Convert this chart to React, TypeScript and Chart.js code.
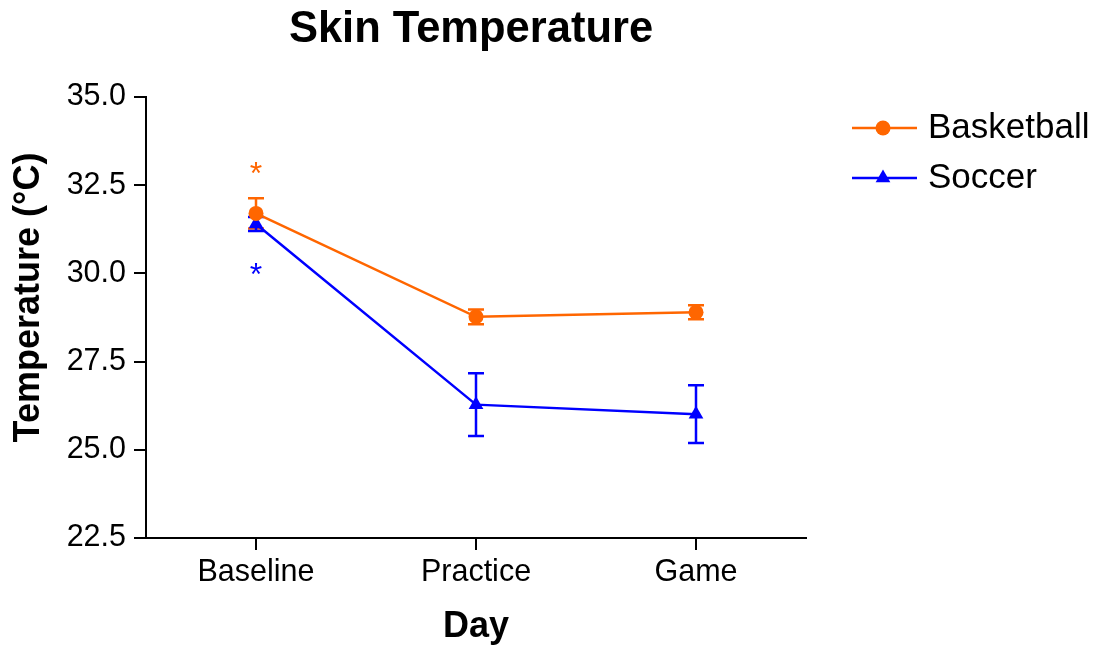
import React, { useEffect, useRef } from 'react';
import { Chart, registerables } from 'chart.js';

Chart.register(...registerables);

const categories = ['Baseline', 'Practice', 'Game'];
const seriesNames = ['Basketball', 'Soccer'];
const basketballMean = [31.7, 28.77, 28.9];
const basketballErr = [0.43, 0.21, 0.2];
const soccerMean = [31.4, 26.28, 26.01];
const soccerErr = [0.2, 0.89, 0.82];
const yMin = 22.5;
const yMax = 35.0;
const yStep = 2.5;
const starValues = [33.0, 30.12]; // significance markers at Baseline (basketball, soccer)
const starCategoryIndex = 0;
const chartTitle = 'Skin Temperature';
const xTitle = 'Day';
const yTitle = 'Temperature (°C)';

const ORANGE = '#FF6600';
const BLUE = '#0000FF';
const FONT = "'Liberation Sans', Arial, sans-serif";

const overlayPlugin = {
  id: 'overlay',
  beforeDatasetsDraw(chart: any) {
    const { ctx } = chart;
    const xs = chart.scales.x;
    const ys = chart.scales.y;
    const sets: [number[], number[], string][] = [
      [basketballMean, basketballErr, ORANGE],
      [soccerMean, soccerErr, BLUE],
    ];
    ctx.save();
    ctx.lineWidth = 2.5;
    sets.forEach(([m, e, c]) => {
      ctx.strokeStyle = c;
      m.forEach((v, i) => {
        const px = xs.getPixelForValue(i);
        const top = ys.getPixelForValue(v + e[i]);
        const bot = ys.getPixelForValue(v - e[i]);
        ctx.beginPath();
        ctx.moveTo(px, top);
        ctx.lineTo(px, bot);
        ctx.moveTo(px - 8, top);
        ctx.lineTo(px + 8, top);
        ctx.moveTo(px - 8, bot);
        ctx.lineTo(px + 8, bot);
        ctx.stroke();
      });
    });
    ctx.restore();
  },
  afterDraw(chart: any) {
    const { ctx, chartArea } = chart;
    const xs = chart.scales.x;
    const ys = chart.scales.y;
    ctx.save();
    // main title
    ctx.fillStyle = '#000';
    ctx.font = `bold 43.5px ${FONT}`;
    ctx.textAlign = 'center';
    ctx.textBaseline = 'alphabetic';
    ctx.fillText(chartTitle, (chartArea.left + chartArea.right) / 2 - 5, 42);

    // y axis title
    ctx.save();
    ctx.translate(39, (chartArea.top + chartArea.bottom) / 2 - 20);
    ctx.rotate(-Math.PI / 2);
    ctx.font = `bold 36px ${FONT}`;
    ctx.textAlign = 'center';
    ctx.textBaseline = 'alphabetic';
    ctx.fillText(yTitle, 0, 0);
    ctx.restore();

    // significance asterisks
    const starColors = [ORANGE, BLUE];
    ctx.font = `32px ${FONT}`;
    ctx.textAlign = 'center';
    ctx.textBaseline = 'alphabetic';
    starValues.forEach((v, i) => {
      const m = ctx.measureText('*');
      const mid = (m.actualBoundingBoxAscent - m.actualBoundingBoxDescent) / 2;
      ctx.fillStyle = starColors[i];
      ctx.fillText('*', xs.getPixelForValue(starCategoryIndex), ys.getPixelForValue(v) + mid);
    });

    // legend
    const colors = [ORANGE, BLUE];
    const styles = ['circle', 'triangle'];
    const lx0 = chartArea.right + 46;
    const lx1 = chartArea.right + 111;
    const mx = chartArea.right + 77;
    ctx.font = `35px ${FONT}`;
    ctx.textAlign = 'left';
    seriesNames.forEach((name, i) => {
      const ly = chartArea.top + 31 + i * 50;
      ctx.strokeStyle = colors[i];
      ctx.fillStyle = colors[i];
      ctx.lineWidth = 2.5;
      ctx.beginPath();
      ctx.moveTo(lx0, ly);
      ctx.lineTo(lx1, ly);
      ctx.stroke();
      ctx.beginPath();
      if (styles[i] === 'circle') {
        ctx.arc(mx, ly, 7.5, 0, Math.PI * 2);
      } else {
        const r = 8.5;
        ctx.moveTo(mx, ly - r);
        ctx.lineTo(mx + r * Math.sin((2 * Math.PI) / 3), ly - r * Math.cos((2 * Math.PI) / 3));
        ctx.lineTo(mx + r * Math.sin((4 * Math.PI) / 3), ly - r * Math.cos((4 * Math.PI) / 3));
        ctx.closePath();
      }
      ctx.fill();
      ctx.fillStyle = '#000';
      ctx.textBaseline = 'alphabetic';
      ctx.fillText(name, chartArea.right + 122, ly + 10);
    });
    ctx.restore();
  },
};

export default function App() {
  const canvasRef = useRef<HTMLCanvasElement | null>(null);

  useEffect(() => {
    if (!canvasRef.current) return;
    const chart = new Chart(canvasRef.current, {
      type: 'line',
      data: {
        labels: categories,
        datasets: [
          {
            label: seriesNames[0],
            data: basketballMean,
            borderColor: ORANGE,
            backgroundColor: ORANGE,
            borderWidth: 2.5,
            pointStyle: 'circle',
            pointRadius: 7.5,
            pointBorderWidth: 0,
            tension: 0,
          },
          {
            label: seriesNames[1],
            data: soccerMean,
            borderColor: BLUE,
            backgroundColor: BLUE,
            borderWidth: 2.5,
            pointStyle: 'triangle',
            pointRadius: 8.5,
            pointBorderWidth: 0,
            tension: 0,
          },
        ],
      },
      options: {
        responsive: false,
        animation: false,
        events: [],
        layout: { padding: { top: 97, right: 287, left: 0, bottom: 0 } },
        plugins: {
          legend: { display: false },
          title: { display: false },
          tooltip: { enabled: false },
        },
        scales: {
          x: {
            type: 'category',
            offset: true,
            afterFit: (s: any) => {
              s.height = 107;
            },
            grid: {
              display: true,
              drawOnChartArea: false,
              drawTicks: true,
              tickLength: 12,
              color: '#000',
              lineWidth: 2,
              offset: false,
            },
            border: { display: true, color: '#000', width: 2 },
            ticks: {
              color: '#000',
              font: { family: FONT, size: 30.5 },
              padding: 4,
              maxRotation: 0,
            },
            title: {
              display: true,
              text: xTitle,
              color: '#000',
              font: { family: FONT, size: 36, weight: 'bold', lineHeight: 1.0 },
              padding: 0,
            },
          },
          y: {
            min: yMin,
            max: yMax,
            afterFit: (s: any) => {
              s.width = 146;
            },
            grid: {
              display: true,
              drawOnChartArea: false,
              drawTicks: true,
              tickLength: 12,
              color: '#000',
              lineWidth: 2,
            },
            border: { display: true, color: '#000', width: 2 },
            ticks: {
              stepSize: yStep,
              color: '#000',
              font: { family: FONT, size: 30.5 },
              padding: 8,
              callback: (v: any) => Number(v).toFixed(1),
            },
            title: { display: false },
          },
        },
      },
      plugins: [overlayPlugin],
    });
    return () => chart.destroy();
  }, []);

  return (
    <div style={{ position: 'absolute', left: 0, top: 0, width: 1093, height: 645, background: '#fff' }}>
      <canvas ref={canvasRef} width={1093} height={645} style={{ display: 'block' }} />
    </div>
  );
}
